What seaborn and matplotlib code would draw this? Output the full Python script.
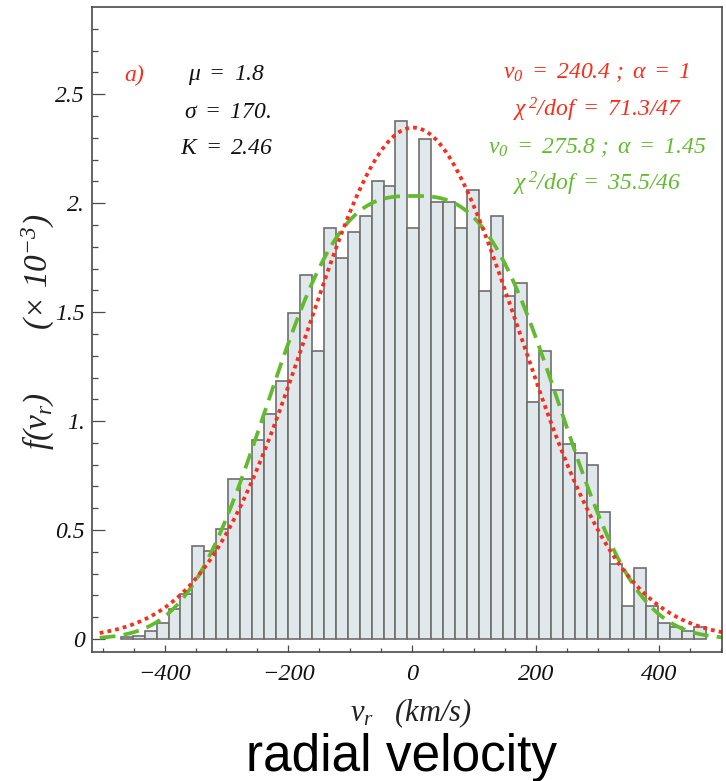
import numpy as np
import pandas as pd
import matplotlib
matplotlib.use("Agg")
import matplotlib.pyplot as plt
from matplotlib.ticker import FixedLocator, FixedFormatter, MultipleLocator
import seaborn as sns
from math import gamma

# ---------------- data ----------------
# normalised histogram f(v_r) in units of 1e-3, 49 bins from bin_lo to bin_hi (km/s)
bin_lo = -471.0
bin_hi = 475.4
heights = [0.009, 0.015, 0.035, 0.073, 0.138, 0.207, 0.425, 0.405, 0.506, 0.736,
           0.736, 0.915, 1.033, 1.185, 1.496, 1.669, 1.323, 1.886, 1.749, 1.868,
           1.943, 2.103, 2.077, 2.376, 1.886, 2.295, 2.004, 2.004, 1.886, 2.061,
           1.596, 1.943, 1.576, 1.634, 1.088, 1.323, 1.144, 0.895, 0.854, 0.797,
           0.581, 0.344, 0.153, 0.326, 0.153, 0.073, 0.055, 0.035, 0.055]

# fitted model parameters printed on the chart
mu = 1.8
red_v0, red_alpha = 240.4, 1.0
green_v0, green_alpha = 275.8, 1.45
curve_range = (-505.0, 505.0)

xticks = [-400, -200, 0, 200, 400]
xticklabels = ["\u2212400", "\u2212200", "0", "200", "400"]
yticks = [0, 0.5, 1, 1.5, 2, 2.5]
yticklabels = ["0", "0.5", "1.", "1.5", "2.", "2.5"]

# ---------------- styling ----------------
sns.set_style("white")
plt.rcParams["mathtext.fontset"] = "custom"
plt.rcParams["mathtext.rm"] = "Liberation Serif:italic"
plt.rcParams["mathtext.it"] = "Liberation Serif:italic"
plt.rcParams["mathtext.bf"] = "Liberation Serif:italic:bold"
plt.rcParams["mathtext.fallback"] = "stix"
plt.rcParams["font.family"] = ["Liberation Serif", "DejaVu Sans"]

W, H = 726, 781
fig = plt.figure(figsize=(W / 100, H / 100), dpi=100)
ax = fig.add_axes([92 / W, 1 - 651.7 / H, (722 - 92) / W, (651.7 - 7.3) / H])

RED = "#FF2A1A"
GREEN = "#62BB2E"
FRAME = "#4a4a4a"

edges = np.linspace(bin_lo, bin_hi, len(heights) + 1)
centers = 0.5 * (edges[:-1] + edges[1:])
df = pd.DataFrame({"v": centers, "f": heights})
sns.histplot(data=df, x="v", weights="f", bins=[float(e) for e in edges], stat="count",
             color="#E1E8EB", edgecolor="#6E6E6E", linewidth=1.2, alpha=1.0, ax=ax)


def model(v, v0, alpha):
    p = 2.0 * alpha
    return np.exp(-np.abs((v - mu) / v0) ** p) / (2.0 * v0 * gamma(1.0 + 1.0 / p)) * 1e3


vg = np.linspace(curve_range[0], curve_range[1], 800)
sns.lineplot(x=vg, y=model(vg, green_v0, green_alpha), color=GREEN, lw=2.7,
             linestyle=(0, (4.2, 2.2)), ax=ax)
sns.lineplot(x=vg, y=model(vg, red_v0, red_alpha), color=RED, lw=2.7,
             linestyle=(0, (1.0, 1.1)), ax=ax)

ax.set_xlim(-517.5, 501.3)
ax.set_ylim(-0.0583, 2.899)

for s in ax.spines.values():
    s.set_color(FRAME)
    s.set_linewidth(1.2)
    s.set_visible(True)

ax.xaxis.set_major_locator(FixedLocator(xticks))
ax.xaxis.set_major_formatter(FixedFormatter(xticklabels))
ax.xaxis.set_minor_locator(MultipleLocator(50))
ax.yaxis.set_major_locator(FixedLocator(yticks))
ax.yaxis.set_major_formatter(FixedFormatter(yticklabels))
ax.yaxis.set_minor_locator(MultipleLocator(0.1))

ax.tick_params(axis="x", which="major", direction="in", length=5, width=0.9,
               color=FRAME, pad=8.5, labelsize=17.5, bottom=True, top=False)
ax.tick_params(axis="x", which="minor", direction="in", length=3, width=0.9,
               color=FRAME, bottom=True, top=False)
ax.tick_params(axis="y", which="major", direction="in", length=9.4, width=0.9,
               color=FRAME, pad=5, labelsize=17, left=True, right=False)
ax.tick_params(axis="y", which="minor", direction="in", length=4.5, width=0.9,
               color=FRAME, left=True, right=False)
for lab in ax.get_xticklabels() + ax.get_yticklabels():
    lab.set_fontstyle("italic")
    lab.set_fontfamily(["Liberation Serif", "DejaVu Serif"])
    lab.set_color("#111111")

ax.set_xlabel(r"$v_r\ \ \ (km/s)$", fontsize=22, color="#222222")
ax.xaxis.label.set_va("center")
ax.xaxis.set_label_coords((411 - 92) / (722 - 92), (651.7 - 713) / (651.7 - 7.3))
ax.set_ylabel(r"$f(v_r)\quad\quad\ \ (\times\ 10^{-3})$", fontsize=24, color="#222222")
ax.yaxis.label.set_va("center")
ax.yaxis.set_label_coords((38 - 92) / (722 - 92), (651.7 - 332) / (651.7 - 7.3))


def ftext(px, py, s, color, size=17):
    fig.text(px / W, 1 - py / H, s, color=color, fontsize=size, ha="center", va="center")


ftext(134, 75, r"$a)$", RED)
ftext(227, 75, r"$\mu\ =\ 1.8$", "#111111")
ftext(227, 112, r"$\sigma\ =\ 170.$", "#111111")
ftext(227, 149, r"$K\ =\ 2.46$", "#111111")
ftext(597, 73, r"$v_0\ =\ 240.4\ ;\ \alpha\ =\ 1$", RED)
ftext(598, 110, r"$\chi^{\,2}/dof\ =\ 71.3/47$", RED)
ftext(597, 148, r"$v_0\ =\ 275.8\ ;\ \alpha\ =\ 1.45$", GREEN)
ftext(597, 184, r"$\chi^{\,2}/dof\ =\ 35.5/46$", GREEN)

fig.text(401.5 / W, 1 - 771.5 / H, "radial velocity", fontsize=37, ha="center", va="baseline",
         family=["Liberation Sans", "DejaVu Sans"], color="black")

fig.savefig("out.png", dpi=100)
